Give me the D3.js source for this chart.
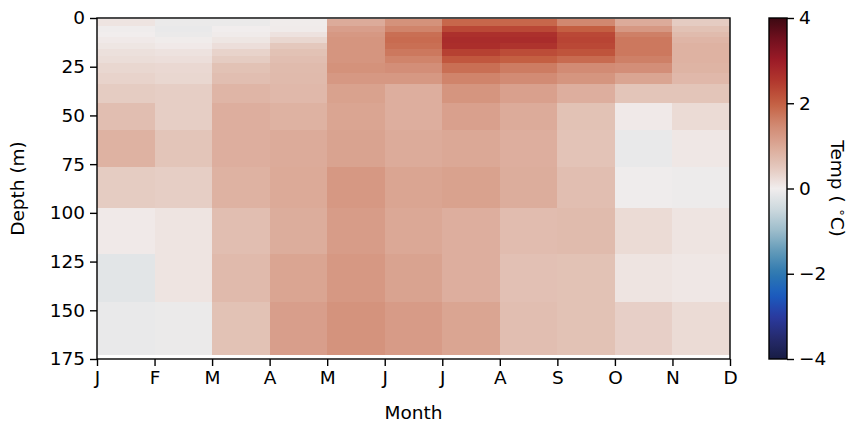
<!DOCTYPE html>
<html><head><meta charset="utf-8">
<script src="https://cdn.jsdelivr.net/npm/d3@7"></script>
<style>
body{margin:0;background:#fff}
svg text{font-family:"DejaVu Sans",sans-serif;fill:#000}
</style>
</head><body>
<svg id="chart" width="851" height="425"></svg>
<script>
// ---- data ----
const monthTicks = ['J','F','M','A','M','J','J','A','S','O','N','D'];
const depthTicks = [0, 25, 50, 75, 100, 125, 150, 175];
const colorbarTicks = [-4, -2, 0, 2, 4];
// depth layer edges (m), 16 layers
const depthEdges = [0.5, 4, 7, 10, 13, 16, 19.5, 23, 28, 34, 43.7, 57.4, 76.4, 97.4, 121, 146, 173];
// temperature anomaly (°C) for each month interval, top layer first
const janFeb = [0.12, -0.02, 0.0, 0.05, 0.1, 0.18, 0.22, 0.3, 0.35, 0.45, 0.65, 0.85, 0.45, 0.05, -0.2, -0.1];
const febMar = [-0.08, -0.1, -0.08, 0.02, 0.05, 0.15, 0.2, 0.28, 0.3, 0.42, 0.42, 0.55, 0.42, 0.12, 0.12, -0.08];
const marApr = [-0.08, 0.0, 0.03, 0.1, 0.2, 0.35, 0.45, 0.6, 0.65, 0.8, 0.9, 0.9, 0.85, 0.65, 0.72, 0.6];
const aprMay = [0.02, 0.03, 0.15, 0.3, 0.5, 0.6, 0.65, 0.7, 0.72, 0.75, 0.85, 0.95, 0.97, 0.92, 1.05, 1.15];
const mayJun = [0.95, 1.15, 1.25, 1.3, 1.3, 1.3, 1.3, 1.35, 1.25, 1.1, 1.05, 1.08, 1.25, 1.18, 1.25, 1.33];
const junJul = [1.35, 1.55, 1.8, 1.85, 1.8, 1.7, 1.55, 1.4, 1.25, 0.9, 0.9, 0.95, 1.05, 1.0, 1.08, 1.2];
const julAug = [1.9, 2.3, 2.65, 2.72, 2.68, 2.4, 2.1, 1.8, 1.55, 1.3, 1.12, 1.0, 1.1, 0.9, 0.9, 1.05];
const augSep = [1.9, 2.3, 2.65, 2.72, 2.6, 2.25, 2.0, 1.65, 1.45, 1.12, 0.95, 0.9, 0.92, 0.68, 0.62, 0.65];
const sepOct = [1.5, 2.0, 2.3, 2.35, 2.3, 2.15, 1.85, 1.45, 1.3, 0.9, 0.6, 0.58, 0.65, 0.7, 0.6, 0.6];
const octNov = [0.95, 1.25, 1.6, 1.7, 1.7, 1.7, 1.6, 1.4, 1.05, 0.55, 0.05, -0.1, -0.03, 0.25, 0.12, 0.4];
const novDec = [0.45, 0.6, 0.7, 0.8, 0.85, 0.85, 0.85, 0.82, 0.75, 0.55, 0.25, 0.08, -0.05, 0.12, 0.08, 0.25];
const columns = [janFeb, febMar, marApr, aprMay, mayJun, junJul, julAug, augSep, sepOct, octNov, novDec];

// cmocean "balance"-like colormap control colours (evenly spaced, white in the middle)
const balanceStops = ['#181c43','#262b6e','#2a3aa0','#1a5cc0','#2d78b0','#5f98b8','#9bbccb','#cbd8dd','#f1eded',
  '#e4c8bd','#dba896','#d18870','#c45f42','#b3392e','#9c1b27','#72101f','#3c0912'];

// ---- drawing ----
const svg = d3.select('#chart');
const FS = 18.5;
const plot = {left: 97, right: 730, top: 18, bottom: 359};
const x = d3.scaleLinear().domain([0, monthTicks.length - 1]).range([plot.left, plot.right]);
const y = d3.scaleLinear().domain([0, 175]).range([plot.top, plot.bottom]);
const cmap = d3.piecewise(d3.interpolateRgb, balanceStops);
const color = d3.scaleSequential(cmap).domain([-4, 4]);

const cells = [];
columns.forEach((col, i) => col.forEach((v, r) => cells.push({i, r, v})));
svg.append('g').selectAll('rect').data(cells).join('rect')
  .attr('x', d => x(d.i))
  .attr('width', d => x(d.i + 1) - x(d.i))
  .attr('y', d => y(depthEdges[d.r]))
  .attr('height', d => y(depthEdges[d.r + 1]) - y(depthEdges[d.r]))
  .attr('fill', d => color(d.v))
  .attr('shape-rendering', 'crispEdges');

function styleAxis(g) {
  g.selectAll('.domain').remove();
  g.selectAll('line').attr('stroke', '#000').attr('stroke-width', 1.4);
  g.selectAll('text').attr('font-size', FS).attr('fill', '#000')
    .style('font-family', '"DejaVu Sans", sans-serif');
}

svg.append('g').attr('transform', `translate(${plot.left},0)`)
  .call(d3.axisLeft(y).tickValues(depthTicks).tickSize(7).tickPadding(5))
  .call(styleAxis);
svg.append('g').attr('transform', `translate(0,${plot.bottom})`)
  .call(d3.axisBottom(x).tickValues(d3.range(monthTicks.length)).tickFormat(i => monthTicks[i]).tickSize(7).tickPadding(5))
  .call(styleAxis);

svg.append('rect').attr('x', plot.left).attr('y', plot.top)
  .attr('width', plot.right - plot.left).attr('height', plot.bottom - plot.top)
  .attr('fill', 'none').attr('stroke', '#000').attr('stroke-width', 1.4);

svg.append('text').attr('transform', `translate(24,${(plot.top + plot.bottom) / 2}) rotate(-90)`)
  .attr('text-anchor', 'middle').attr('font-size', FS).text('Depth (m)');
svg.append('text').attr('x', (plot.left + plot.right) / 2).attr('y', 419)
  .attr('text-anchor', 'middle').attr('font-size', FS).text('Month');

// colorbar
const cb = {left: 769, right: 787};
const cbY = d3.scaleLinear().domain([-4, 4]).range([plot.bottom, plot.top]);
const grad = svg.append('defs').append('linearGradient').attr('id', 'cbgrad')
  .attr('x1', 0).attr('y1', 1).attr('x2', 0).attr('y2', 0);
d3.range(0, 1.0001, 0.02).forEach(t => {
  grad.append('stop').attr('offset', t).attr('stop-color', cmap(t));
});
svg.append('rect').attr('x', cb.left).attr('y', plot.top)
  .attr('width', cb.right - cb.left).attr('height', plot.bottom - plot.top)
  .attr('fill', 'url(#cbgrad)').attr('stroke', '#000').attr('stroke-width', 1.4);
svg.append('g').attr('transform', `translate(${cb.right},0)`)
  .call(d3.axisRight(cbY).tickValues(colorbarTicks).tickSize(7).tickPadding(5)
    .tickFormat(d => d < 0 ? '\u2212' + Math.abs(d) : String(d)))
  .call(styleAxis);

const cbl = svg.append('text').attr('transform', `translate(831,${(plot.top + plot.bottom) / 2}) rotate(90)`)
  .attr('text-anchor', 'middle').attr('font-size', FS);
cbl.append('tspan').text('Temp ( ');
cbl.append('tspan').attr('font-size', FS * 0.7).attr('dy', -7).text('\u2218');
cbl.append('tspan').attr('dy', 7).text('C)');
</script>
</body></html>
